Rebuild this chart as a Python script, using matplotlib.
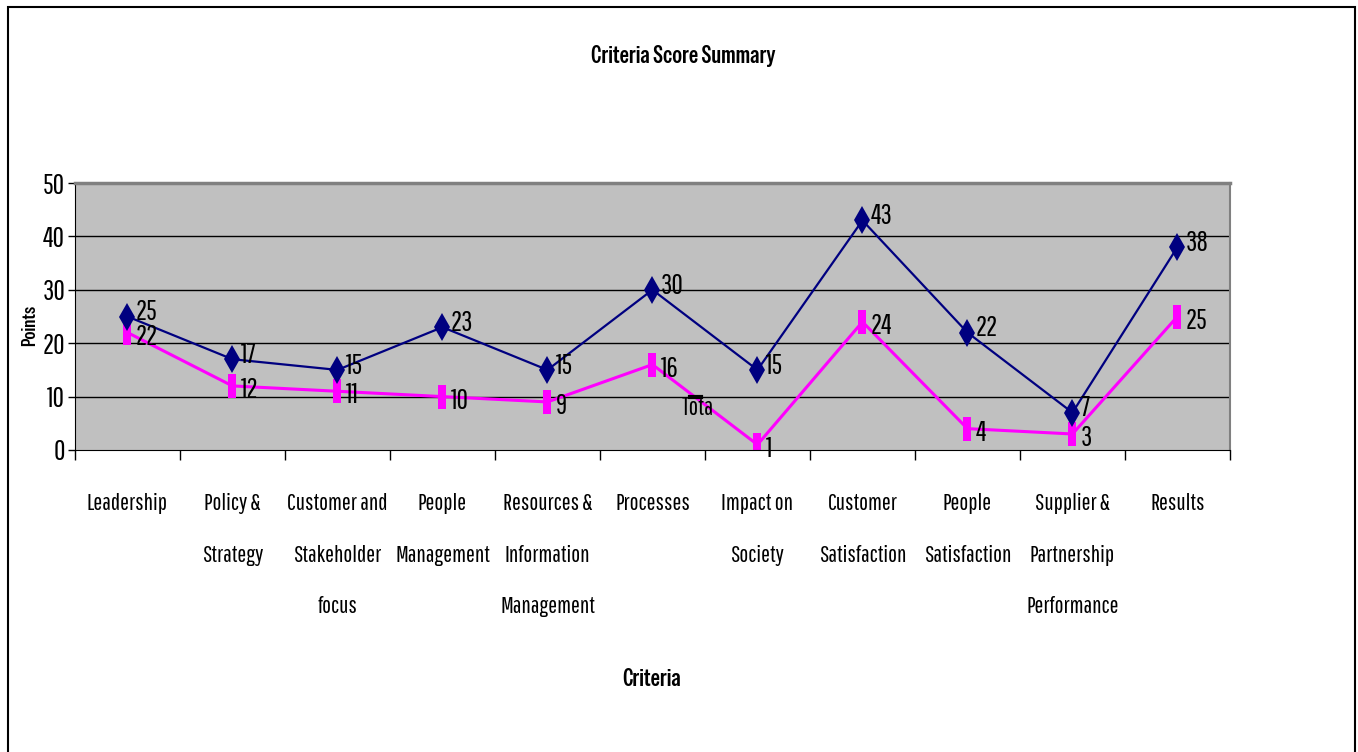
import numpy as np
import matplotlib
matplotlib.use("Agg")
import matplotlib.pyplot as plt
from matplotlib.patches import Rectangle

# data
criteria = ["Leadership", "Policy &\nStrategy", "Customer and\nStakeholder\nfocus",
            "People\nManagement", "Resources &\nInformation\nManagement", "Processes",
            "Impact on\nSociety", "Customer\nSatisfaction", "People\nSatisfaction",
            "Supplier &\nPartnership\nPerformance", "Results"]
total = [25, 17, 15, 23, 15, 30, 15, 43, 22, 7, 38]
second = [22, 12, 11, 10, 9, 16, 1, 24, 4, 3, 25]

plt.rcParams['font.family'] = ['Pathway Gothic One', 'Liberation Sans', 'DejaVu Sans']
bold_font = ['Special Gothic Condensed One', 'Liberation Sans', 'DejaVu Sans']

fig = plt.figure(figsize=(13.58, 7.52), dpi=100)
ax = fig.add_axes([0.0552, 0.4016, 0.8505, 0.355])
ax.set_facecolor("#C0C0C0")

x = np.arange(len(criteria))

# grid lines
for yv in [10, 20, 30, 40]:
    ax.axhline(yv, color="black", lw=1, zorder=1)

rect_marker = [(-0.3, -1), (0.3, -1), (0.3, 1), (-0.3, 1), (-0.3, -1)]

ax.plot(x, total, color="#000080", lw=1.6, marker="d", markersize=14,
        markeredgewidth=0, zorder=3)
ax.plot(x, second, color="#FF00FF", lw=2.2, marker=rect_marker, markersize=17,
        markeredgewidth=0, zorder=2)

for xi, v in zip(x, total):
    ax.annotate(str(v), (xi, v), xytext=(6, 3), textcoords="offset points",
                ha="left", va="center", fontsize=20, zorder=5)
for xi, v in zip(x, second):
    ax.annotate(str(v), (xi, v), xytext=(6, -3), textcoords="offset points",
                ha="left", va="center", fontsize=20, zorder=5)

# stray legend fragment
ax.text(5.43, 7.8, "Tota", fontsize=18, ha="center", va="center", zorder=4)
ax.plot([5.36, 5.46], [10, 10], color="black", lw=3, zorder=4)

ax.set_xlim(-0.5, 10.5)
ax.set_ylim(0, 50)
ax.set_yticks([0, 10, 20, 30, 40, 50])
ax.tick_params(axis="y", labelsize=20, length=5, width=1, pad=2)
ax.set_xticks(x)
ax.set_xticklabels(criteria, fontsize=17, linespacing=2.8)
ax.tick_params(axis="x", which="major", length=0, pad=31)
ax.set_xticks(np.arange(-0.5, 11, 1), minor=True)
ax.tick_params(axis="x", which="minor", length=7, width=1, direction="out")

ax.spines["left"].set_color("black")
ax.spines["bottom"].set_color("black")
ax.spines["top"].set_color("#808080")
ax.spines["top"].set_linewidth(2.5)
ax.spines["right"].set_color("#808080")
ax.spines["right"].set_linewidth(1.5)

fig.text(683 / 1358, 1 - 56 / 752, "Criteria Score Summary", ha="center", va="center",
         fontsize=17, family=bold_font, fontweight="bold")
fig.text(652 / 1358, 1 - 679 / 752, "Criteria", ha="center", va="center",
         fontsize=17, family=bold_font, fontweight="bold")
fig.text(30 / 1358, 1 - 325 / 752, "Points", ha="center", va="center",
         fontsize=14, family=bold_font, fontweight="bold", rotation=90)

# outer chart border
fig.patches.append(Rectangle((8 / 1358, -0.02), (1355 - 8) / 1358, 1.02 - 7 / 752,
                             transform=fig.transFigure, fill=False,
                             edgecolor="black", lw=1.5))

fig.savefig("out.png", dpi=100)
